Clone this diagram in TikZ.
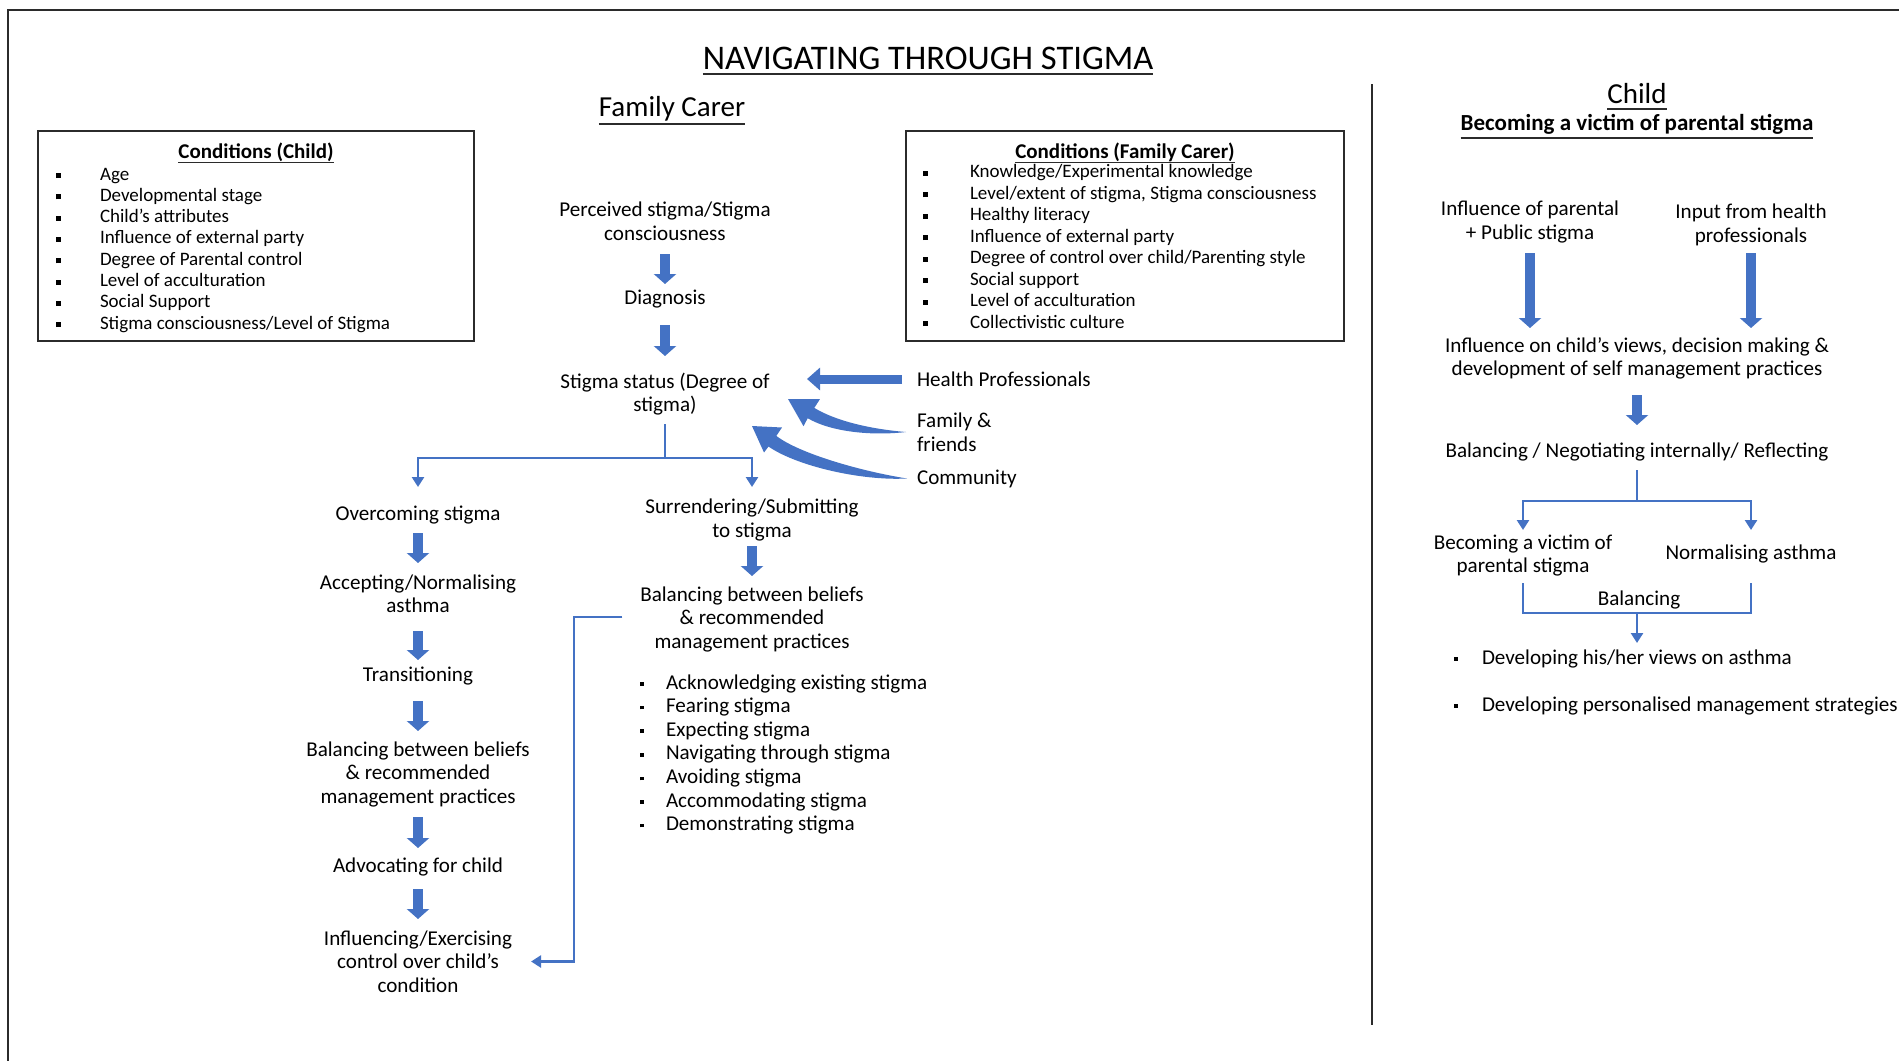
\documentclass[tikz,border=0pt]{standalone}
\usepackage{fontspec}
\setmainfont{Carlito}
\usetikzlibrary{arrows.meta,calc}
\definecolor{flowblue}{HTML}{4472C4}
\definecolor{inkgray}{HTML}{2B2B2B}
% underline drawn as a rule below the baseline: #1 offset, #2 thickness, #3 text
\newsavebox\ulsave
\newcommand\ulbox[3]{\sbox\ulsave{#3}\rlap{\raisebox{0pt}[0pt][0pt]{\color{inkgray}\rule[\dimexpr-#1-#2\relax]{\wd\ulsave}{#2}}}\usebox\ulsave}
% small square bullet centred on the x-height
\newcommand\sqbul[1]{\rule[\dimexpr0.233em-#1/2\relax]{#1}{#1}}
% one list row: #1 bullet column width, #2 bullet size, #3 text
\newcommand\lrow[3]{\makebox[#1][l]{\sqbul{#2}}#3}

\begin{document}
\begin{tikzpicture}[x=1pt,y=-1pt,
  every node/.style={inner sep=0pt,outer sep=0pt},
  flow/.style={align=center,font=\fontsize{21.1}{23.5}\selectfont},
  sidelabel/.style={align=left,anchor=west,font=\fontsize{21.1}{23.5}\selectfont},
  condbox/.style={draw=inkgray,line width=2.6pt,minimum width=#1,minimum height=210pt},
  condtitle/.style={font=\bfseries\fontsize{21}{24}\selectfont},
  condlist/.style={anchor=base west,font=\fontsize{19}{#1}\selectfont},
  steplist/.style={anchor=base west,font=\fontsize{21.1}{23.6}\selectfont},
  blk/.style={draw=flowblue,line width=9.5pt,-{Triangle[width=22pt,length=10pt]}},
  conn/.style={draw=flowblue,line width=2.6pt,-{Triangle[width=12pt,length=10pt]}},
  plainline/.style={draw=flowblue,line width=2.6pt},
  rulestroke/.style={draw=inkgray,line width=2.2pt}]

\useasboundingbox (0,0) rectangle (1899,1061);
\fill[white] (0,0) rectangle (1899,1061);

% page frame and column divider
\draw[rulestroke,line width=2.6pt] (1899,10) -- (8,10) -- (8,1061);
\draw[rulestroke] (1372,84) -- (1372,1025);

% headings
\node[font=\fontsize{34.5}{38}\selectfont] (title) at (928,58) {\ulbox{4pt}{2.4pt}{NAVIGATING THROUGH STIGMA}};
\node[font=\fontsize{29}{32}\selectfont] (fchead) at (672,108.5) {\ulbox{7pt}{2pt}{Family Carer}};
\node[font=\fontsize{29}{32}\selectfont] (chhead) at (1637,94) {\ulbox{4pt}{2pt}{Child}};
\node[font=\bfseries\fontsize{23}{26}\selectfont] (chsub) at (1637,124.5) {\ulbox{6pt}{2pt}{Becoming a victim of parental stigma}};

% condition boxes
\node[condbox=436pt] (cbox) at (256,236) {};
\node[condtitle] (ctitle) at (256,152) {\ulbox{3.5pt}{1.7pt}{Conditions (Child)}};
\node[condlist=21.3] (clist) at (55.5,180) {\begin{tabular}[t]{@{}l@{}}
\lrow{44.5pt}{5pt}{Age}\\
\lrow{44.5pt}{5pt}{Developmental stage}\\
\lrow{44.5pt}{5pt}{Child's attributes}\\
\lrow{44.5pt}{5pt}{Influence of external party}\\
\lrow{44.5pt}{5pt}{Degree of Parental control}\\
\lrow{44.5pt}{5pt}{Level of acculturation}\\
\lrow{44.5pt}{5pt}{Social Support}\\
\lrow{44.5pt}{5pt}{Stigma consciousness/Level of Stigma}
\end{tabular}};

\node[condbox=438pt] (fbox) at (1125,236) {};
\node[condtitle] (ftitle) at (1125,152) {\ulbox{3.5pt}{1.7pt}{Conditions (Family Carer)}};
\node[condlist=21.5] (flist) at (922.5,177.6) {\begin{tabular}[t]{@{}l@{}}
\lrow{47.5pt}{5pt}{Knowledge/Experimental knowledge}\\
\lrow{47.5pt}{5pt}{Level/extent of stigma, Stigma consciousness}\\
\lrow{47.5pt}{5pt}{Healthy literacy}\\
\lrow{47.5pt}{5pt}{Influence of external party}\\
\lrow{47.5pt}{5pt}{Degree of control over child/Parenting style}\\
\lrow{47.5pt}{5pt}{Social support}\\
\lrow{47.5pt}{5pt}{Level of acculturation}\\
\lrow{47.5pt}{5pt}{Collectivistic culture}
\end{tabular}};

% family carer: central flow
\node[flow] (perc) at (665,221) {Perceived stigma/Stigma\\consciousness};
\node[flow] (diag) at (665,299) {Diagnosis};
\node[flow] (status) at (665,394) {Stigma status (Degree of\\stigma)};
\draw[blk] (perc |- 0,254) -- (perc |- 0,284);
\draw[blk] (diag |- 0,325) -- (diag |- 0,356);

% external influences
\node[sidelabel] (hp) at (917,379) {Health Professionals};
\node[sidelabel] (ff) at (917,432) {Family \&\\friends};
\node[sidelabel] (comm) at (917,478.5) {Community};
\draw[blk,line width=9pt,-{Triangle[width=22pt,length=13pt]}] ([xshift=-15pt]hp.west) -- (807,0 |- hp.west);
% tapered curved arrows towards the stigma status
\fill[flowblue] ([xshift=-11pt]ff.west) .. controls (870,429) and (836,421) .. (814.3,407.9)
  -- (819.9,399.2) -- (788,399) -- (803.5,426.2) -- (807.7,418.2)
  .. controls (831,432) and (872,436) .. ([xshift=-11pt]ff.west) -- cycle;
\fill[flowblue] ([xshift=-10pt]comm.west) .. controls (860,471) and (799.4,453.5) .. (776.3,435.9)
  -- (782.0,427.5) -- (752,426) -- (764.0,452.5) -- (768.5,446.5)
  .. controls (795.6,465.5) and (860,481) .. ([xshift=-10pt]comm.west) -- cycle;

% split into the two paths
\coordinate (split) at (status |- 0,458);
\node[flow] (over) at (418,515) {Overcoming stigma};
\node[flow] (surr) at (752,520) {Surrendering/Submitting\\to stigma};
\draw[plainline] (status |- 0,424) -- (split);
\draw[conn] (split) -| (over |- 0,487);
\draw[conn] (split) -| (surr |- 0,487);

% overcoming path
\node[flow] (accept) at (418,593.5) {Accepting/Normalising\\asthma};
\node[flow] (trans) at (418,676) {Transitioning};
\node[flow] (lbal) at (418,774) {Balancing between beliefs\\\& recommended\\management practices};
\node[flow] (advoc) at (418,867) {Advocating for child};
\node[flow] (infl) at (418,961.5) {Influencing/Exercising\\control over child's\\condition};
\draw[blk] (over |- 0,533) -- (over |- 0,563);
\draw[blk] (accept |- 0,631) -- (accept |- 0,660);
\draw[blk] (trans |- 0,701) -- (trans |- 0,731);
\draw[blk] (lbal |- 0,817) -- (lbal |- 0,848);
\draw[blk] (advoc |- 0,889) -- (advoc |- 0,919);

% surrendering path
\node[flow] (mbal) at (752,619) {Balancing between beliefs\\\& recommended\\management practices};
\draw[blk] (surr |- 0,546) -- (surr |- 0,576);
\node[steplist] (mlist) at (640.2,689) {\begin{tabular}[t]{@{}l@{}}
\lrow{25.8pt}{3.6pt}{Acknowledging existing stigma}\\
\lrow{25.8pt}{3.6pt}{Fearing stigma}\\
\lrow{25.8pt}{3.6pt}{Expecting stigma}\\
\lrow{25.8pt}{3.6pt}{Navigating through stigma}\\
\lrow{25.8pt}{3.6pt}{Avoiding stigma}\\
\lrow{25.8pt}{3.6pt}{Accommodating stigma}\\
\lrow{25.8pt}{3.6pt}{Demonstrating stigma}
\end{tabular}};
\coordinate (fbcorner) at (574,617);
\draw[conn] ([xshift=-18pt]mbal.west |- fbcorner) -- (fbcorner) |- ([xshift=19pt]infl.east);

% child column
\node[flow] (pubst) at (1530,222) {Influence of parental\\+ Public stigma};
\node[flow] (hpin) at (1751,225) {Input from health\\professionals};
\node[flow] (views) at (1637,358.5) {Influence on child's views, decision making \&\\development of self management practices};
\node[flow] (balneg) at (1637,452) {Balancing / Negotiating internally/ Reflecting};
\draw[blk] (pubst |- 0,253) -- (pubst |- 0,328);
\draw[blk] (hpin |- 0,253) -- (hpin |- 0,328);
\draw[blk] (views |- 0,395) -- (views |- 0,425);

\node[flow] (victim) at (1523,555.5) {Becoming a victim of\\parental stigma};
\node[flow] (norm) at (1751,554) {Normalising asthma};
\coordinate (rsplit) at (balneg |- 0,501);
\draw[plainline] (balneg |- 0,470) -- (rsplit);
\draw[conn] (rsplit) -| (victim |- 0,530);
\draw[conn] (rsplit) -| (norm |- 0,530);

\coordinate (rjoin) at (balneg |- 0,613);
\node[flow] (rbal) at (1639,600) {Balancing};
\draw[plainline] (victim |- 0,583) |- (rjoin) -| (norm |- 0,583);
\draw[conn] (rjoin) -- (balneg |- 0,643);

\node[steplist] (dev1) at (1454.2,664) {\lrow{27.8pt}{3.6pt}{Developing his/her views on asthma}};
\node[steplist] (dev2) at (1454.2,711) {\lrow{27.8pt}{3.6pt}{Developing personalised management strategies}};
\end{tikzpicture}
\end{document}
